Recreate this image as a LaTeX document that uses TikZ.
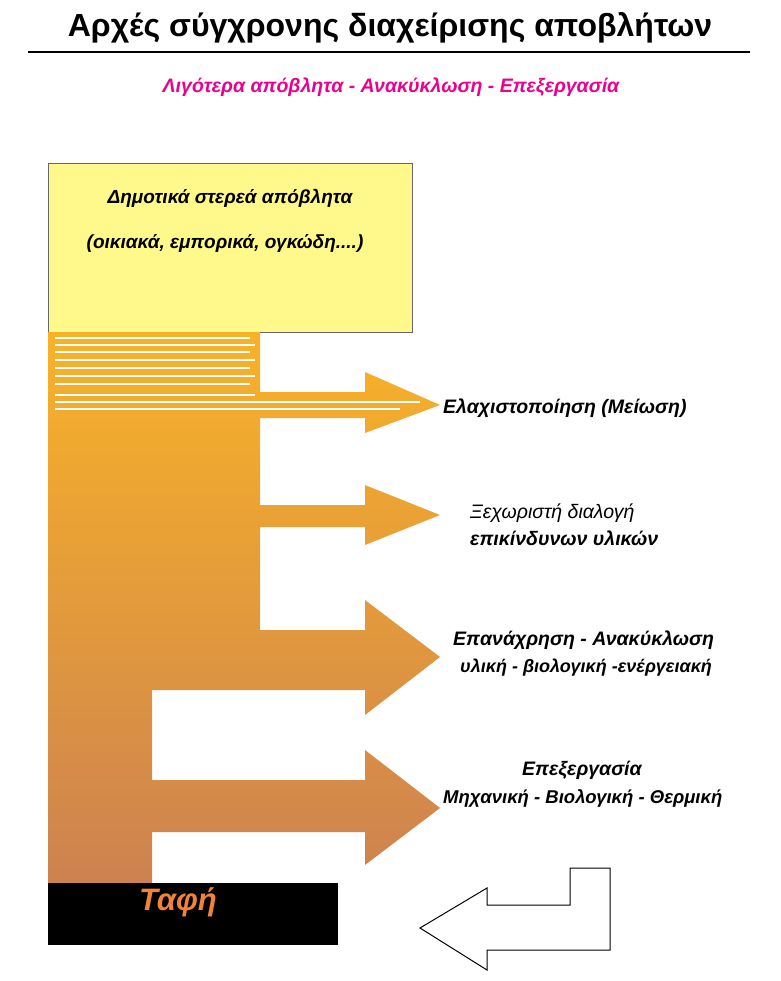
\documentclass[tikz,border=0pt]{standalone}
\usepackage{fontspec}
\setmainfont{Liberation Sans}
\begin{document}
\begin{tikzpicture}[x=1pt,y=-1pt,
  lbl/.style={font=\fontsize{19.5}{22}\selectfont\bfseries\itshape,anchor=west,inner sep=0},
  ybox/.style={draw=black!60,line width=0.5pt,fill=yellow!45}]
\useasboundingbox (0,0) rectangle (780,981);
\fill[white] (0,0) rectangle (780,981);
\node (title) at (390,28) {\fontsize{32}{36}\selectfont\bfseries Αρχές σύγχρονης διαχείρισης αποβλήτων};
\draw[line width=1.5pt] (28,52) coordinate (l1) -- (750,52) coordinate (l2);
\node[text=magenta] (sub) at (391,87) {\fontsize{19.5}{22}\selectfont\bfseries\itshape Λιγότερα απόβλητα - Ανακύκλωση - Επεξεργασία};
\node[ybox,minimum width=364,minimum height=169,anchor=north west,inner sep=0] (yb) at (48,163) {};
\node (t1) at (230,198) {\fontsize{19}{22}\selectfont\bfseries\itshape Δημοτικά στερεά απόβλητα};
\node (t2) at (225,243) {\fontsize{19}{22}\selectfont\bfseries\itshape (οικιακά, εμπορικά, ογκώδη....)};
\shade[top color={rgb,255:red,248;green,178;blue,40},bottom color={rgb,255:red,205;green,130;blue,80}]
 (48,332) -- (260,332) -- (260,392) -- (365,392) -- (365,372) -- (440,405) -- (365,433) -- (365,418) -- (260,418)
 -- (260,505) -- (365,505) -- (365,485) -- (440,515) -- (365,545) -- (365,527) -- (260,527)
 -- (260,630) -- (365,630) -- (365,600) -- (440,657) -- (365,715) -- (365,690) -- (152,690)
 -- (152,780) -- (365,780) -- (365,750) -- (440,808) -- (365,865) -- (365,832) -- (152,832)
 -- (152,883) -- (48,883) -- cycle;
\foreach \yy/\xe in {338/250,345/255,352/250,360/255,368/250,376/255,384/250,395/255,402/420,409/400}
  \draw[white,line width=1.5pt] (55,\yy) -- (\xe,\yy);
\node[fill=black,minimum width=290,minimum height=62,anchor=north west,inner sep=0] (bk) at (48,883) {};
\node[text={rgb,255:red,240;green,130;blue,60}] (taf) at (178,902) {\fontsize{31}{34}\selectfont\bfseries\itshape Ταφή};
\draw[line width=1pt] (420,928) -- (487,888) -- (487,905) -- (570,905) -- (570,868) -- (610,868) -- (610,950) -- (487,950) -- (487,970) -- cycle;
\node[lbl] (a1) at (443,408) {Ελαχιστοποίηση (Μείωση)};
\node[lbl,font=\fontsize{19.5}{22}\selectfont\itshape] (a2) at (470,513) {Ξεχωριστή διαλογή};
\node[lbl] (a2b) at (470,538) {επικίνδυνων υλικών};
\node[lbl] (a3) at (453,640) {Επανάχρηση - Ανακύκλωση};
\node[lbl,font=\fontsize{18}{20}\selectfont\bfseries\itshape] (a3b) at (460,668) {υλική - βιολογική -ενέργειακή};
\node[lbl] (a4) at (522,770) {Επεξεργασία};
\node[lbl,font=\fontsize{18.5}{21}\selectfont\bfseries\itshape] (a4b) at (443,798) {Μηχανική - Βιολογική - Θερμική};
\end{tikzpicture}
\end{document}
